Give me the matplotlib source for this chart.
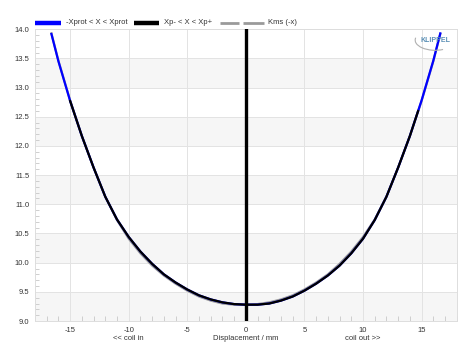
import numpy as np
import matplotlib
matplotlib.use("Agg")
import matplotlib.pyplot as plt
from matplotlib.lines import Line2D
from matplotlib.patches import Arc
from matplotlib.ticker import MultipleLocator, FuncFormatter

plt.rcParams['font.family'] = ['Liberation Sans', 'DejaVu Sans']

# Displacement (mm) and stiffness Kms(x) (N/mm)
disp = [-16.6, -16.0, -15.0, -14.0, -13.0, -12.0, -11.0, -10.0, -9.0, -8.0,
        -7.0, -6.0, -5.0, -4.0, -3.0, -2.0, -1.0, 0.0, 1.0, 2.0, 3.0, 4.0,
        5.0, 6.0, 7.0, 8.0, 9.0, 10.0, 11.0, 12.0, 13.0, 14.0, 15.0, 16.0, 16.6]
kms = [13.92, 13.45, 12.77, 12.17, 11.63, 11.13, 10.74, 10.44, 10.19, 9.98,
       9.80, 9.66, 9.54, 9.44, 9.37, 9.32, 9.29, 9.28, 9.28, 9.30, 9.35, 9.42,
       9.52, 9.64, 9.78, 9.95, 10.16, 10.41, 10.73, 11.13, 11.63, 12.17, 12.78, 13.46, 13.93]
xp_minus, xp_plus = -15.0, 14.7     # range of the black curve
rest_pos = 0.0

x = np.array(disp)
k = np.array(kms)
m = (x > xp_minus) & (x < xp_plus)
xb = np.concatenate([[xp_minus], x[m], [xp_plus]])
kb = np.concatenate([[np.interp(xp_minus, x, k)], k[m], [np.interp(xp_plus, x, k)]])

fig = plt.figure(figsize=(4.59, 3.43), dpi=100)
ax = fig.add_axes([0.0763, 0.0641, 0.9187, 0.8505])

ax.set_xlim(-18, 18)
ax.set_ylim(9.0, 14.0)

# alternating bands
for y0 in np.arange(9.0, 14.0, 1.0):
    ax.axhspan(y0, y0 + 0.5, color='#f6f6f6', zorder=0, lw=0)

ax.xaxis.set_major_locator(MultipleLocator(5))
ax.xaxis.set_minor_locator(MultipleLocator(1))
ax.yaxis.set_major_locator(MultipleLocator(0.5))
ax.yaxis.set_minor_locator(MultipleLocator(0.1))
ax.grid(True, which='major', color='#e3e3e3', lw=0.7, zorder=0.5)
ax.set_axisbelow(True)

ax.tick_params(which='major', length=0, labelsize=5.5, colors='#333333', pad=4)
ax.tick_params(which='minor', direction='in', length=3.2, color='#c8c8c8', width=0.6)
ax.tick_params(axis='x', which='minor', length=3.5)
ax.xaxis.set_major_formatter(FuncFormatter(lambda v, p: f"{v:.0f}"))
ax.yaxis.set_major_formatter(FuncFormatter(lambda v, p: f"{v:.1f}"))
for s in ax.spines.values():
    s.set_color('#dddddd')
    s.set_linewidth(0.7)

ax.plot(-x, k, color='#9a9a9a', lw=1.6, zorder=2)
ax.plot(x, k, color='#0000ff', lw=1.6, zorder=3)
ax.plot(xb, kb, color='#000000', lw=1.6, zorder=4)
ax.axvline(rest_pos, color='#000000', lw=2.4, zorder=5)

# secondary x labels
for xv, t in [(-10, '<< coil in'), (0, 'Displacement / mm'), (10, 'coil out >>')]:
    ax.text(xv, -0.061, t, transform=ax.get_xaxis_transform(), ha='center', va='center',
            fontsize=5.5, color='#333333')

# legend (figure coords)
W, H = 459.0, 343.0
ly = 1 - 22.5 / H
def seg(x0, x1, c, lw):
    fig.add_artist(Line2D([x0 / W, x1 / W], [ly, ly], color=c, lw=lw,
                          transform=fig.transFigure, solid_capstyle='butt'))
seg(35, 60.5, '#0000ff', 3.2)
fig.text(66 / W, ly, '-Xprot < X < Xprot', fontsize=5.5, va='center', color='#333333')
seg(134, 159, '#000000', 3.2)
fig.text(164 / W, ly, 'Xp- < X < Xp+', fontsize=5.5, va='center', color='#333333')
seg(220, 239, '#9a9a9a', 2.0)
seg(243, 264, '#9a9a9a', 2.0)
fig.text(268 / W, ly, 'Kms (-x)', fontsize=5.5, va='center', color='#333333')

# logo
ax.text(0.949, 0.963, 'KLIPPEL', transform=ax.transAxes, ha='center', va='center',
        fontsize=5, color='#5a8fb5', fontweight='bold', zorder=6)
ax.add_patch(Arc((0.949, 0.963), 0.095, 0.07, transform=ax.transAxes, theta1=170, theta2=300,
                 color='#b0b0b0', lw=0.8, zorder=6))

fig.savefig('out.png', dpi=100)
